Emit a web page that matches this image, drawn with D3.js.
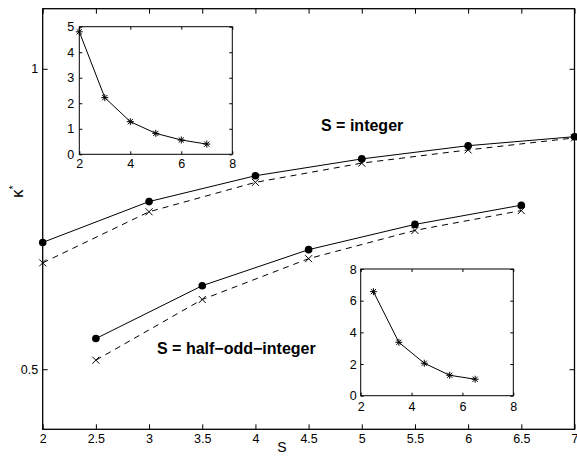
<!DOCTYPE html>
<html>
<head>
<meta charset="utf-8">
<script src="https://cdn.jsdelivr.net/npm/d3@7"></script>
<style>
html,body{margin:0;padding:0;background:#fff;}
svg{display:block;font-family:"Liberation Sans",Arial,Helvetica,sans-serif;}
</style>
</head>
<body>
<svg id="chart" width="577" height="456"></svg>
<script>
// ---- data ----
const intS = [2, 3, 4, 5, 6, 7];
const intSolid = [0.711, 0.779, 0.822, 0.850, 0.872, 0.887];
const intDashed = [0.677, 0.762, 0.811, 0.843, 0.865, 0.885];
const halfS = [2.5, 3.5, 4.5, 5.5, 6.5];
const halfSolid = [0.551, 0.639, 0.699, 0.741, 0.773];
const halfDashed = [0.515, 0.616, 0.684, 0.731, 0.764];
const inset1X = [2, 3, 4, 5, 6, 7];
const inset1Y = [4.80, 2.22, 1.28, 0.82, 0.56, 0.40];
const inset2X = [2.5, 3.5, 4.5, 5.5, 6.5];
const inset2Y = [6.57, 3.37, 2.05, 1.29, 1.04];
const mainXTicks = [2, 2.5, 3, 3.5, 4, 4.5, 5, 5.5, 6, 6.5, 7];
const mainYTicks = [0.5, 1];
const inset1XTicks = [2, 4, 6, 8];
const inset1YTicks = [0, 1, 2, 3, 4, 5];
const inset2XTicks = [2, 4, 6, 8];
const inset2YTicks = [0, 2, 4, 6, 8];

const svg = d3.select("#chart");

function drawAxes(g, x, y, xt, yt, opts) {
  const [x0, x1] = x.range();
  const [y0, y1] = y.range(); // y0 bottom, y1 top
  const fs = opts.fontSize;
  g.append("rect").attr("x", x0).attr("y", y1).attr("width", x1 - x0).attr("height", y0 - y1)
    .attr("fill", "#fff").attr("stroke", "none");
  const fmt = d => String(d);
  const bottom = g.append("g").attr("transform", `translate(0,${y0})`)
    .call(d3.axisBottom(x).tickValues(xt).tickSize(-opts.tick).tickPadding(opts.xPad).tickFormat(fmt));
  const top = g.append("g").attr("transform", `translate(0,${y1})`)
    .call(d3.axisTop(x).tickValues(xt).tickSize(-opts.tick).tickFormat(""));
  const left = g.append("g").attr("transform", `translate(${x0},0)`)
    .call(d3.axisLeft(y).tickValues(yt).tickSize(-opts.tick).tickPadding(opts.yPad).tickFormat(fmt));
  const right = g.append("g").attr("transform", `translate(${x1},0)`)
    .call(d3.axisRight(y).tickValues(yt).tickSize(-opts.tick).tickFormat(""));
  [bottom, top, left, right].forEach(a => {
    a.select(".domain").remove();
    a.selectAll("line").attr("stroke", "#000").attr("stroke-width", 1);
    a.selectAll("text").attr("font-size", fs).attr("fill", "#000")
      .attr("font-family", "'Liberation Sans',Arial,Helvetica,sans-serif");
  });
  g.append("rect").attr("x", x0).attr("y", y1).attr("width", x1 - x0).attr("height", y0 - y1)
    .attr("fill", "none").attr("stroke", "#000").attr("stroke-width", opts.box);
}

// ---- main axes ----
const x = d3.scaleLinear().domain([2, 7]).range([42.7, 574.5]);
const y = d3.scaleLinear().domain([0.4, 1.1]).range([429.3, 8.7]);
const main = svg.append("g");
drawAxes(main, x, y, mainXTicks, mainYTicks, {fontSize: "12.5px", tick: 5, xPad: 5, yPad: 4.5, box: 1.3});

const line = d3.line().x(d => x(d[0])).y(d => y(d[1]));
const plot = main.append("g");

function series(xs, ys, dashed, marker) {
  const pts = xs.map((s, i) => [s, ys[i]]);
  plot.append("path").datum(pts).attr("d", line).attr("fill", "none").attr("stroke", "#000")
    .attr("stroke-width", 1).attr("stroke-dasharray", dashed ? "6,5" : null);
  if (marker === "o") {
    plot.selectAll(null).data(pts).enter().append("circle")
      .attr("cx", d => x(d[0])).attr("cy", d => y(d[1])).attr("r", 3.8).attr("fill", "#000");
  } else {
    const r = 3.5;
    plot.selectAll(null).data(pts).enter().append("path")
      .attr("d", d => { const cx = x(d[0]), cy = y(d[1]);
        return `M${cx - r},${cy - r}L${cx + r},${cy + r}M${cx - r},${cy + r}L${cx + r},${cy - r}`; })
      .attr("stroke", "#000").attr("stroke-width", 1).attr("fill", "none");
  }
}
series(intS, intDashed, true, "x");
series(intS, intSolid, false, "o");
series(halfS, halfDashed, true, "x");
series(halfS, halfSolid, false, "o");

// annotations
main.append("text").attr("x", 321).attr("y", 131).attr("font-size", "16px").attr("font-weight", "bold")
  .text("S = integer");
main.append("text").attr("x", 157).attr("y", 354).attr("font-size", "16px").attr("font-weight", "bold")
  .text("S = half\u2212odd\u2212integer");

// axis labels
svg.append("text").attr("x", 282).attr("y", 452).attr("text-anchor", "middle").attr("font-size", "14px").text("S");
const yl = svg.append("text").attr("transform", "translate(23,198) rotate(-90)")
  .attr("text-anchor", "start").attr("font-size", "17px");
yl.append("tspan").text("\u03BA");
yl.append("tspan").attr("baseline-shift", "super").attr("font-size", "11px").text("*");

// ---- insets ----
function inset(xs, ys, xr, yr, xdom, ydom, xt, yt, xPad, yPad) {
  const ix = d3.scaleLinear().domain(xdom).range(xr);
  const iy = d3.scaleLinear().domain(ydom).range(yr);
  const g = svg.append("g");
  drawAxes(g, ix, iy, xt, yt, {fontSize: "12.5px", tick: 3, xPad: xPad, yPad: yPad, box: 1});
  const pts = xs.map((s, i) => [s, ys[i]]);
  g.append("path").datum(pts).attr("d", d3.line().x(d => ix(d[0])).y(d => iy(d[1])))
    .attr("fill", "none").attr("stroke", "#000").attr("stroke-width", 1);
  const r = 3.5, rd = 2.6;
  g.selectAll(null).data(pts).enter().append("path")
    .attr("d", d => { const cx = ix(d[0]), cy = iy(d[1]);
      return `M${cx - r},${cy}L${cx + r},${cy}M${cx},${cy - r}L${cx},${cy + r}` +
        `M${cx - rd},${cy - rd}L${cx + rd},${cy + rd}M${cx - rd},${cy + rd}L${cx + rd},${cy - rd}`; })
    .attr("stroke", "#000").attr("stroke-width", 1).attr("fill", "none");
}
inset(inset1X, inset1Y, [79.3, 232.3], [154.3, 26.7], [2, 8], [0, 5], inset1XTicks, inset1YTicks, 5, 5);
inset(inset2X, inset2Y, [360.7, 513.3], [395.7, 269], [2, 8], [0, 8], inset2XTicks, inset2YTicks, 6, 4);
</script>
</body>
</html>
